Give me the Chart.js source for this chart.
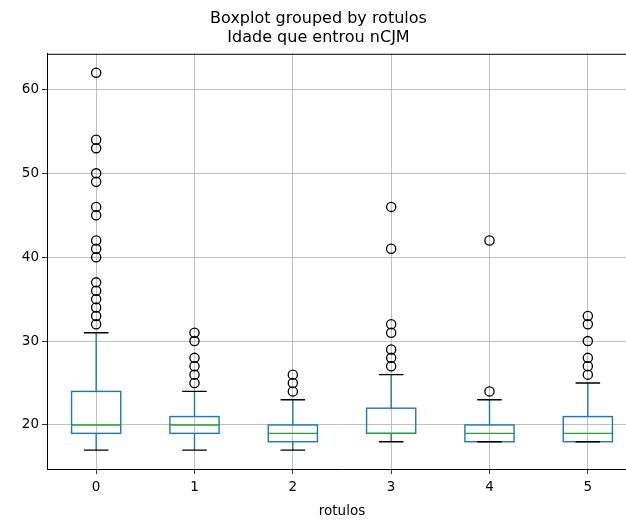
<!DOCTYPE html>
<html lang="pt">
<head>
<meta charset="UTF-8">
<title>Boxplot grouped by rotulos</title>
<script src="https://cdn.jsdelivr.net/npm/chart.js"></script>
<style>
    body { margin: 0; background: #ffffff; overflow: hidden; }
    #wrap { position: absolute; left: 0; top: 0; width: 680px; height: 521px; }
</style>
</head>
<body>
<div id="wrap"><canvas id="box" width="680" height="521"></canvas></div>
<script>
// grupos (rotulos) e estatisticas de cada caixa
const rotulos = [0, 1, 2, 3, 4, 5];
const q1 = [19, 19, 18, 19, 18, 18];
const mediana = [20, 20, 19, 19, 19, 19];
const q3 = [24, 21, 20, 22, 20, 21];
const bigodeMin = [17, 17, 17, 18, 18, 18];
const bigodeMax = [31, 24, 23, 26, 23, 25];
const outliers = [
    [62, 54, 53, 50, 49, 46, 45, 42, 41, 40, 37, 36, 35, 34, 33, 32],
    [31, 30, 28, 27, 26, 25],
    [26, 25, 24],
    [46, 41, 32, 31, 29, 28, 27],
    [42, 24],
    [33, 32, 30, 28, 27, 26]
];
const yTicks = [20, 30, 40, 50, 60];

const fonte = 'DejaVu Sans';
const azul = '#1f77b4';

// pontos dos outliers para o scatter
let pontos = [];
outliers.forEach((lista, i) => {
    lista.forEach(v => pontos.push({ x: rotulos[i], y: v }));
});

// desenha caixas, bigodes e medianas usando as escalas do chart
const boxPlugin = {
    id: 'boxes',
    beforeDatasetsDraw(chart) {
        const ctx = chart.ctx;
        const xs = chart.scales.x, ys = chart.scales.y;
        ctx.save();
        ctx.lineWidth = 1.4;
        rotulos.forEach((r, i) => {
            const xc = xs.getPixelForValue(r);
            const xl = xs.getPixelForValue(r - 0.25), xr = xs.getPixelForValue(r + 0.25);
            const cl = xs.getPixelForValue(r - 0.125), cr = xs.getPixelForValue(r + 0.125);
            const yq1 = ys.getPixelForValue(q1[i]), yq3 = ys.getPixelForValue(q3[i]);
            const ymed = ys.getPixelForValue(mediana[i]);
            const ylo = ys.getPixelForValue(bigodeMin[i]), yhi = ys.getPixelForValue(bigodeMax[i]);

            // bigodes
            ctx.strokeStyle = azul;
            ctx.beginPath();
            ctx.moveTo(xc, yq3); ctx.lineTo(xc, yhi);
            ctx.moveTo(xc, yq1); ctx.lineTo(xc, ylo);
            ctx.stroke();
            // caixa
            ctx.strokeRect(xl, yq3, xr - xl, yq1 - yq3);
            // caps
            ctx.strokeStyle = '#000000';
            ctx.beginPath();
            ctx.moveTo(cl, yhi); ctx.lineTo(cr, yhi);
            ctx.moveTo(cl, ylo); ctx.lineTo(cr, ylo);
            ctx.stroke();
            // mediana
            ctx.strokeStyle = '#2ca02c';
            ctx.beginPath();
            ctx.moveTo(xl, ymed); ctx.lineTo(xr, ymed);
            ctx.stroke();
        });
        ctx.restore();
    },
    afterDraw(chart) {
        // spine de cima (a da direita fica fora da imagem)
        const a = chart.chartArea, ctx = chart.ctx;
        ctx.save();
        ctx.strokeStyle = '#000000';
        ctx.lineWidth = 1;
        ctx.beginPath();
        ctx.moveTo(a.left, a.top + 0.5); ctx.lineTo(a.right, a.top + 0.5);
        ctx.stroke();
        ctx.restore();
    }
};

new Chart(document.getElementById('box'), {
    type: 'scatter',
    data: {
        datasets: [{
            data: pontos,
            pointStyle: 'circle',
            pointRadius: 4.6,
            pointHoverRadius: 4.6,
            borderColor: '#000000',
            backgroundColor: 'rgba(0,0,0,0)',
            borderWidth: 1.3
        }]
    },
    options: {
        responsive: false,
        animation: false,
        layout: { padding: { left: 0, right: 43, top: 0, bottom: 0 } },
        plugins: {
            legend: { display: false },
            tooltip: { enabled: false },
            title: {
                display: true,
                text: ['Boxplot grouped by rotulos', 'Idade que entrou nCJM'],
                color: '#000000',
                font: { family: fonte, size: 16, weight: 'normal', lineHeight: 1.15 },
                padding: { top: 10, bottom: 7 }
            }
        },
        scales: {
            x: {
                type: 'linear',
                min: -0.5,
                max: 5.5,
                afterBuildTicks: s => { s.ticks = rotulos.map(v => ({ value: v })); },
                afterFit: s => { s.height = 52; },
                ticks: {
                    color: '#000000',
                    padding: 5,
                    font: { family: fonte, size: 13.5 },
                    callback: v => String(v)
                },
                grid: { color: '#b0b0b0', lineWidth: 0.8, tickColor: '#000000', tickLength: 5 },
                border: { color: '#000000', width: 1 },
                title: {
                    display: true,
                    text: 'rotulos',
                    color: '#000000',
                    font: { family: fonte, size: 13.5 },
                    padding: { top: 2, bottom: 1 }
                }
            },
            y: {
                min: 14.75,
                max: 64.25,
                afterBuildTicks: s => { s.ticks = yTicks.map(v => ({ value: v })); },
                afterFit: s => { s.width = 47; },
                ticks: {
                    color: '#000000',
                    padding: 3,
                    font: { family: fonte, size: 13.5 }
                },
                grid: { color: '#b0b0b0', lineWidth: 0.8, tickColor: '#000000', tickLength: 5 },
                border: { color: '#000000', width: 1 }
            }
        }
    },
    plugins: [boxPlugin]
});
</script>
</body>
</html>
